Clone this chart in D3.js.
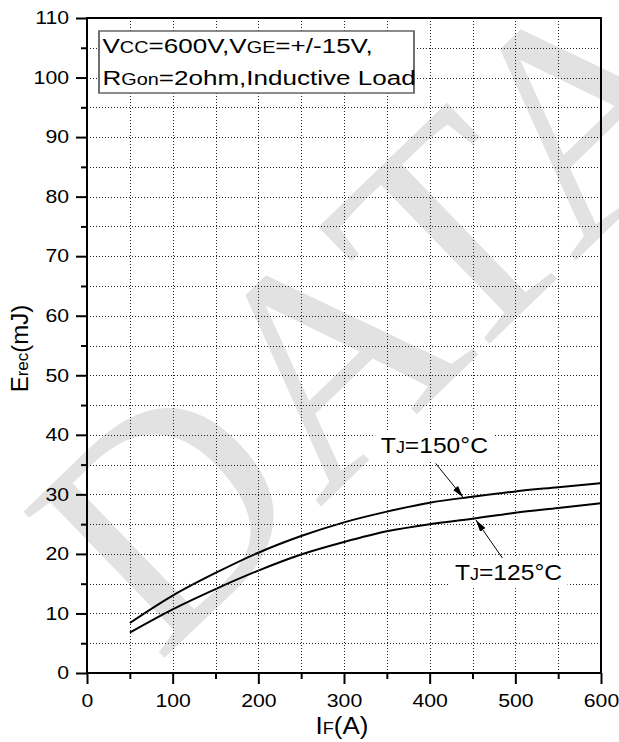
<!DOCTYPE html>
<html><head><meta charset="utf-8">
<script src="https://cdn.jsdelivr.net/npm/d3@7"></script>
<style>
body{margin:0;background:#fff}
svg{display:block}
text{font-family:"Liberation Sans",Arial,sans-serif;fill:#000}
</style>
</head><body>
<svg id="c" width="619" height="742"></svg>
<script>
// ---- data ----
const currentIF = [50,100,150,200,250,300,350,400,450,500,550,600];
const erec150 = [8.4,13.0,16.8,20.2,23.0,25.3,27.1,28.6,29.6,30.5,31.2,31.9];
const erec125 = [6.8,10.7,14.1,17.2,19.9,22.0,23.8,25.0,25.9,26.9,27.7,28.5];
const xMajorTicks = [0,100,200,300,400,500,600];
const xMinorTicks = [50,150,250,350,450,550];
const yMajorTicks = [0,10,20,30,40,50,60,70,80,90,100,110];
const yMinorTicks = [5,15,25,35,45,55,65,75,85,95,105];
const xGrid = [50,100,150,200,250,300,350,400,450,500,550];
const yGrid = [5,10,15,20,25,30,35,40,45,50,55,60,65,70,75,80,85,90,95,100,105];
const labelTemps = ["150\u00B0C","125\u00B0C"];
const labelPos = [[343,36.9],[429.5,15.7]];          // text start (IF, Erec)
const arrowStarts = [[407,35.2],[485,19.3]];
const arrowTips = [[439,29.5],[454,25.7]];

const svg = d3.select("#c");
const L=87,R=601,T=18,B=673, SX=1.18;
const x = d3.scaleLinear().domain([0,600]).range([L,R]);
const y = d3.scaleLinear().domain([0,110]).range([B,T]);

// watermark
const wm = svg.append("g").attr("transform","translate(158,664) rotate(-44)");
wm.append("text").text("DATA")
  .style("font-family","'Liberation Serif','Times New Roman',serif")
  .attr("font-size",310).style("fill","#e2e2e2");

// axes
function styleAxis(g){ g.select(".domain").remove(); g.selectAll("line").attr("stroke","#000").attr("stroke-width",2); }
const xa = svg.append("g").attr("transform",`translate(0,${B})`)
  .call(d3.axisBottom(x).tickValues(xMajorTicks).tickSize(11).tickPadding(10).tickFormat(d3.format("d")));
styleAxis(xa);
xa.selectAll("text").attr("font-size",18).attr("font-family","Liberation Sans, Arial, sans-serif")
  .attr("fill","#000").attr("transform",`scale(${SX},1)`);
const xm = svg.append("g").attr("transform",`translate(0,${B})`)
  .call(d3.axisBottom(x).tickValues(xMinorTicks).tickSize(6).tickFormat(""));
styleAxis(xm);

const ya = svg.append("g").attr("transform",`translate(${L},0)`)
  .call(d3.axisLeft(y).tickValues(yMajorTicks).tickSize(11).tickPadding(7).tickFormat(d3.format("d")));
styleAxis(ya);
ya.selectAll("text").attr("font-size",18).attr("font-family","Liberation Sans, Arial, sans-serif")
  .attr("fill","#000").attr("x",-18/SX).attr("transform",`scale(${SX},1)`);
const ym = svg.append("g").attr("transform",`translate(${L},0)`)
  .call(d3.axisLeft(y).tickValues(yMinorTicks).tickSize(6).tickFormat(""));
styleAxis(ym);

// curves
const line = d3.line().curve(d3.curveMonotoneX).x(d=>x(d[0])).y(d=>y(d[1]));
[erec150, erec125].forEach(s=>{
  svg.append("path").datum(currentIF.map((v,i)=>[v,s[i]]))
    .attr("d",line).attr("fill","none").attr("stroke","#000").attr("stroke-width",2);
});

// dotted grid built from short solid segments (no dasharray)
function dotsV(px){ let d=`M${px},${T}`; for(let yy=T; yy<B-1; yy+=3) d+=`M${px},${yy}v1`; return d; }
function dotsH(py){ let d=`M${L},${py}`; for(let xx=L; xx<R-1; xx+=3) d+=`M${xx},${py}h1`; return d; }
const gridG = svg.append("g");
gridG.selectAll("path.gv").data(xGrid).join("path").attr("class","gv")
  .attr("d",v=>dotsV(Math.round(x(v))+0.5));
gridG.selectAll("path.gh").data(yGrid).join("path").attr("class","gh")
  .attr("d",v=>dotsH(Math.round(y(v))+0.5));
gridG.selectAll("path").attr("fill","none").attr("stroke","#222").attr("stroke-width",1);

// frame
svg.append("rect").attr("x",L).attr("y",T).attr("width",R-L).attr("height",B-T)
  .attr("fill","none").attr("stroke","#000").attr("stroke-width",2);

// legend box
const LS=1.24;
const lg = svg.append("g").attr("transform",`translate(102.5,0) scale(${LS},1)`);
lg.append("rect").attr("x",-3.5/LS).attr("y",31).attr("width",315/LS).attr("height",62)
  .attr("fill","#fff").attr("stroke","#666").attr("stroke-width",1.5);
const l1 = lg.append("text").attr("x",0).attr("y",53.5).attr("font-size",21);
l1.append("tspan").text("V"); l1.append("tspan").attr("font-size",16).text("CC");
l1.append("tspan").text("=600V,V"); l1.append("tspan").attr("font-size",16).text("GE");
l1.append("tspan").text("=+/-15V,");
const l2 = lg.append("text").attr("x",0).attr("y",85).attr("font-size",21);
l2.append("tspan").text("R"); l2.append("tspan").attr("font-size",16).text("Gon");
l2.append("tspan").text("=2ohm,Inductive Load");

// annotation labels
svg.append("defs").append("marker").attr("id","ah").attr("viewBox","0 -4 12 8")
  .attr("refX",12).attr("refY",0).attr("markerWidth",12).attr("markerHeight",8)
  .attr("markerUnits","userSpaceOnUse").attr("orient","auto")
  .append("path").attr("d","M0,-3.2L12,0L0,3.2Z").attr("fill","#000");

labelTemps.forEach((t,i)=>{
  const g = svg.append("g").attr("transform",`translate(${x(labelPos[i][0])},${y(labelPos[i][1])}) scale(1.12,1)`);
  const r = g.append("rect").attr("fill","#fff");
  const tx = g.append("text").attr("x",0).attr("y",0).attr("font-size",22);
  tx.append("tspan").text("T"); tx.append("tspan").attr("font-size",16).text("J");
  tx.append("tspan").text("="+t);
  const bb = tx.node().getBBox();
  r.attr("x",bb.x-5).attr("y",bb.y-2).attr("width",bb.width+10).attr("height",bb.height+6);
  svg.append("line").attr("x1",x(arrowStarts[i][0])).attr("y1",y(arrowStarts[i][1]))
    .attr("x2",x(arrowTips[i][0])).attr("y2",y(arrowTips[i][1]))
    .attr("stroke","#000").attr("stroke-width",1).attr("marker-end","url(#ah)");
});

// axis titles
const xt = svg.append("text").attr("transform",`translate(${(L+R)/2-2},734) scale(1.13,1)`)
  .attr("text-anchor","middle").attr("font-size",23);
xt.append("tspan").text("I"); xt.append("tspan").attr("font-size",16).text("F"); xt.append("tspan").text("(A)");
const yt = svg.append("text").attr("transform",`translate(28,${(T+B)/2+3}) rotate(-90)`)
  .attr("text-anchor","middle").attr("font-size",24);
yt.append("tspan").text("E"); yt.append("tspan").attr("font-size",17).text("rec"); yt.append("tspan").text("(mJ)");
</script>
</body></html>
